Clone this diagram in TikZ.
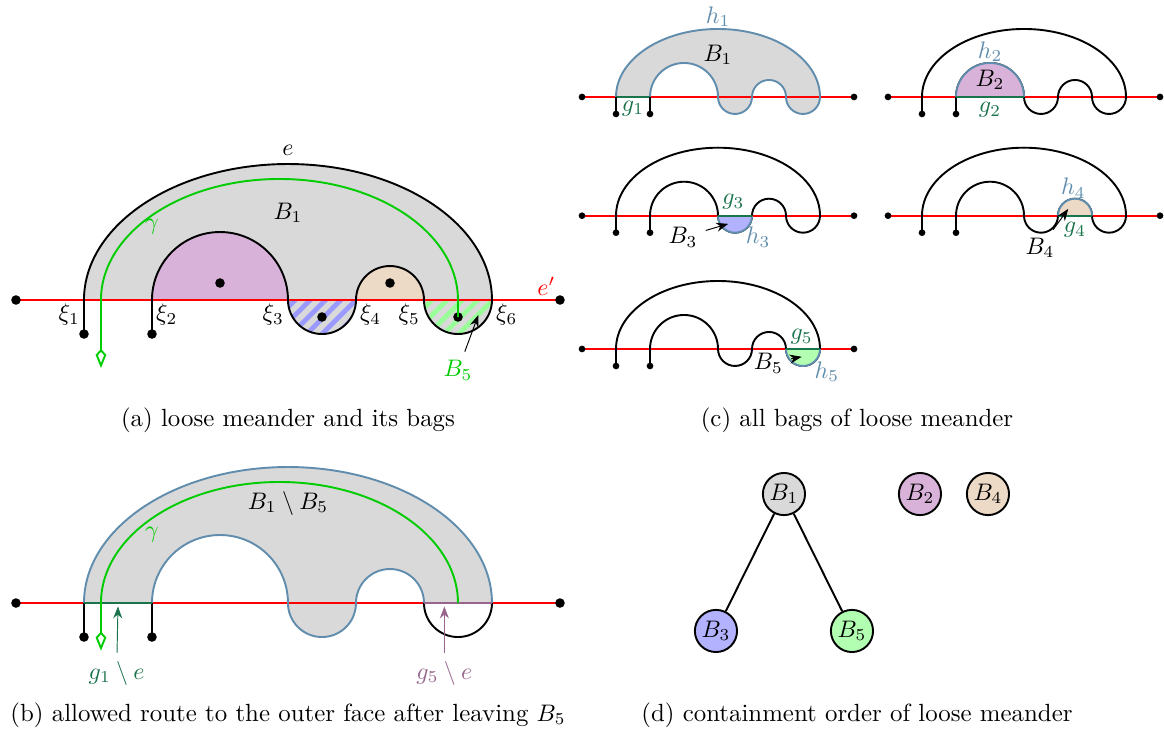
\documentclass[tikz,border=0pt]{standalone}
\usepackage{amsmath}
\usetikzlibrary{arrows.meta,patterns.meta}

\definecolor{hcol}{RGB}{96,141,173}
\definecolor{gcol}{RGB}{25,115,75}
\definecolor{gfivecol}{RGB}{150,100,140}
\definecolor{gamcol}{RGB}{0,204,0}

% boundary of the bag B_1, from xi_1 round to xi_2
\newcommand{\bagone}{arc[start angle=180,end angle=0,x radius=3,y radius=2]
  arc[start angle=0,end angle=-180,radius=0.5]
  arc[start angle=0,end angle=180,radius=0.5]
  arc[start angle=0,end angle=-180,radius=0.5]
  arc[start angle=0,end angle=180,radius=1]}

% red line, meander and its ends, for the small copies
\newcommand{\meanderframe}{%
  \draw[eline] (-1,0) -- (7,0);
  \draw[meander] (0,-0.5) -- (0,0) \bagone -- (1,-0.5);
  \foreach \p in {(-1,0),(7,0),(0,-0.5),(1,-0.5)} \fill \p circle (2.8pt);}

\tikzset{
  meander/.style={thick,line join=round},
  eline/.style={red,thick},
  hbound/.style={hcol,thick},
  gbound/.style={gcol,thick},
  gampath/.style={gamcol,thick,-{Kite[open,length=8pt,width=4.5pt,inset=2.5pt]}},
  hatch/.style={pattern={Lines[angle=45,distance=4.5pt,line width=2pt]}},
  bagnode/.style={circle,draw,thick,minimum size=0.62cm,inner sep=0pt},
  labarrow/.style={-{Stealth[length=5pt]}},
  xilabel/.style={inner sep=1.5pt},
}

\begin{document}
\begin{tikzpicture}[font=\fontsize{10.4pt}{12.5pt}\selectfont]
  \useasboundingbox (0,0) rectangle (17.118,-10.765);

  % (a) loose meander and its bags
  \begin{scope}[shift={(1.235,-4.412)}]
    \fill[gray!30] (0,0) \bagone -- cycle;
    \fill[violet!30] (1,0) arc[start angle=180,end angle=0,radius=1] -- cycle;
    \fill[brown!30] (4,0) arc[start angle=180,end angle=0,radius=0.5] -- cycle;
    \fill[hatch,pattern color=blue!40] (3,0) arc[start angle=180,end angle=360,radius=0.5] -- cycle;
    \fill[hatch,pattern color=green!40] (5,0) arc[start angle=180,end angle=360,radius=0.5] -- cycle;
    \draw[eline] (-1,0) -- (7,0);
    \draw[meander] (0,-0.5) -- (0,0) \bagone -- (1,-0.5);
    \foreach \p in {(-1,0),(7,0),(0,-0.5),(1,-0.5),(2,0.25),(3.5,-0.25),(4.5,0.25),(5.5,-0.25)}
      \fill \p circle (2pt);
    \draw[gampath] (5.5,-0.25) -- (5.5,0) arc[start angle=0,end angle=180,x radius=2.625,y radius=1.78] -- (0.25,-1);
    \foreach \x/\i/\pos in {0/1/below left,1/2/below right,3/3/below left,4/4/below right,5/5/below left,6/6/below right}
      \node[xilabel,\pos] (xi\i) at (\x,0) {$\xi_\i$};
    \node[above] (ea) at (3,2) {$e$};
    \node (bonea) at (3,1.28) {$B_1$};
    \node[gamcol] (gama) at (1,1.08) {$\gamma$};
    \node[red] (epa) at (6.8,0.2) {$e'$};
    \node[gamcol] (bfivea) at (5.5,-1.03) {$B_5$};
    \coordinate (bfivetip) at (5.8,-0.22);
    \draw[labarrow] (bfivea) -- (bfivetip);
  \end{scope}
  \node (capa) at (4.235,-6.176) {(a) loose meander and its bags};

  % (b) route to the outer face
  \begin{scope}[shift={(1.235,-8.868)}]
    \fill[gray!30] (0,0) arc[start angle=180,end angle=0,x radius=3,y radius=2] -- (5,0)
      arc[start angle=0,end angle=180,radius=0.5]
      arc[start angle=0,end angle=-180,radius=0.5]
      arc[start angle=0,end angle=180,radius=1] -- cycle;
    \draw[eline] (-1,0) -- (7,0);
    \draw[hbound] (0,0) arc[start angle=180,end angle=0,x radius=3,y radius=2];
    \draw[hbound] (5,0) arc[start angle=0,end angle=180,radius=0.5]
      arc[start angle=0,end angle=-180,radius=0.5]
      arc[start angle=0,end angle=180,radius=1];
    \draw[meander] (6,0) arc[start angle=0,end angle=-180,radius=0.5];
    \draw[meander] (0,0) -- (0,-0.5) (1,0) -- (1,-0.5);
    \draw[gbound] (0,0) -- (1,0);
    \draw[gfivecol,thick] (5,0) -- (6,0);
    \foreach \p in {(-1,0),(7,0),(0,-0.5),(1,-0.5)}
      \fill \p circle (2pt);
    \draw[gampath] (5.5,0) arc[start angle=0,end angle=180,x radius=2.625,y radius=1.78] -- (0.25,-0.7);
    \node (bfiveb) at (3,1.47) {$B_1\setminus B_5$};
    \node[gamcol] (gamb) at (1,1.0) {$\gamma$};
    \node[gcol] (gone) at (0.48,-1.03) {$g_1\setminus e$};
    \node[gfivecol] (gfive) at (5.3,-1.03) {$g_5\setminus e$};
    \coordinate (gonetip) at (0.5,-0.05);
    \coordinate (gfivetip) at (5.3,-0.05);
    \draw[labarrow,gcol] (gone) -- (gonetip);
    \draw[labarrow,gfivecol] (gfive) -- (gfivetip);
  \end{scope}
  \node (capb) at (4.235,-10.515) {(b) allowed route to the outer face after leaving $B_5$};

  % (c) all bags, one copy each
  \begin{scope}[shift={(9.059,-1.426)},scale=0.5]
    \fill[gray!30] (0,0) \bagone -- cycle;
    \draw[eline] (-1,0) -- (7,0);
    \draw[hbound] (0,0) \bagone;
    \draw[gbound] (0,0) -- (1,0);
    \draw[meander] (0,0) -- (0,-0.5) (1,0) -- (1,-0.5);
    \foreach \p in {(-1,0),(7,0),(0,-0.5),(1,-0.5)} \fill \p circle (2.8pt);
    \node[hcol] (hone) at (3,2.36) {$h_1$};
    \node (bonec) at (3,1.24) {$B_1$};
    \node[gcol] (gonec) at (0.5,-0.33) {$g_1$};
  \end{scope}
  \begin{scope}[shift={(13.559,-1.426)},scale=0.5]
    \meanderframe
    \fill[violet!30] (1,0) arc[start angle=180,end angle=0,radius=1] -- cycle;
    \draw[hbound] (1,0) arc[start angle=180,end angle=0,radius=1];
    \draw[gbound] (1,0) -- (3,0);
    \node[hcol] (htwo) at (2,1.33) {$h_2$};
    \node (btwoc) at (2,0.5) {$B_2$};
    \node[gcol] (gtwo) at (2,-0.38) {$g_2$};
  \end{scope}
  \begin{scope}[shift={(9.059,-3.172)},scale=0.5]
    \meanderframe
    \fill[blue!30] (3,0) arc[start angle=180,end angle=360,radius=0.5] -- cycle;
    \draw[hbound] (3,0) arc[start angle=180,end angle=360,radius=0.5];
    \draw[gbound] (3,0) -- (4,0);
    \node[gcol] (gthree) at (3.45,0.41) {$g_3$};
    \node[hcol] (hthree) at (4.18,-0.63) {$h_3$};
    \node (bthreec) at (1.97,-0.63) {$B_3$};
    \coordinate (bthreetip) at (3.3,-0.24);
    \draw[labarrow] (bthreec) -- (bthreetip);
  \end{scope}
  \begin{scope}[shift={(13.559,-3.172)},scale=0.5]
    \meanderframe
    \fill[brown!30] (4,0) arc[start angle=180,end angle=0,radius=0.5] -- cycle;
    \draw[hbound] (4,0) arc[start angle=180,end angle=0,radius=0.5];
    \draw[gbound] (4,0) -- (5,0);
    \node[hcol] (hfour) at (4.45,0.81) {$h_4$};
    \node[gcol] (gfour) at (4.5,-0.42) {$g_4$};
    \node (bfourc) at (3.47,-0.95) {$B_4$};
    \coordinate (bfourtip) at (4.3,0.2);
    \draw[labarrow] (bfourc) -- (bfourtip);
  \end{scope}
  \begin{scope}[shift={(9.059,-5.132)},scale=0.5]
    \meanderframe
    \fill[green!30] (5,0) arc[start angle=180,end angle=360,radius=0.5] -- cycle;
    \draw[hbound] (5,0) arc[start angle=180,end angle=360,radius=0.5];
    \draw[gbound] (5,0) -- (6,0);
    \node[gcol] (gfivec) at (5.46,0.36) {$g_5$};
    \node[hcol] (hfive) at (6.2,-0.67) {$h_5$};
    \node (bfivec) at (4.48,-0.42) {$B_5$};
    \coordinate (bfivetipc) at (5.46,-0.23);
    \draw[labarrow] (bfivec) -- (bfivetipc);
  \end{scope}
  \node (capc) at (12.603,-6.176) {(c) all bags of loose meander};

  % (d) containment order
  \node[bagnode,fill=gray!30] (n1) at (11.529,-7.265) {$B_1$};
  \node[bagnode,fill=violet!30] (n2) at (13.529,-7.265) {$B_2$};
  \node[bagnode,fill=brown!30] (n4) at (14.529,-7.265) {$B_4$};
  \node[bagnode,fill=blue!30] (n3) at (10.529,-9.279) {$B_3$};
  \node[bagnode,fill=green!30] (n5) at (12.529,-9.279) {$B_5$};
  \draw[thick] (n1) -- (n3) (n1) -- (n5);
  \node (capd) at (12.603,-10.515) {(d) containment order of loose meander};
\end{tikzpicture}
\end{document}
